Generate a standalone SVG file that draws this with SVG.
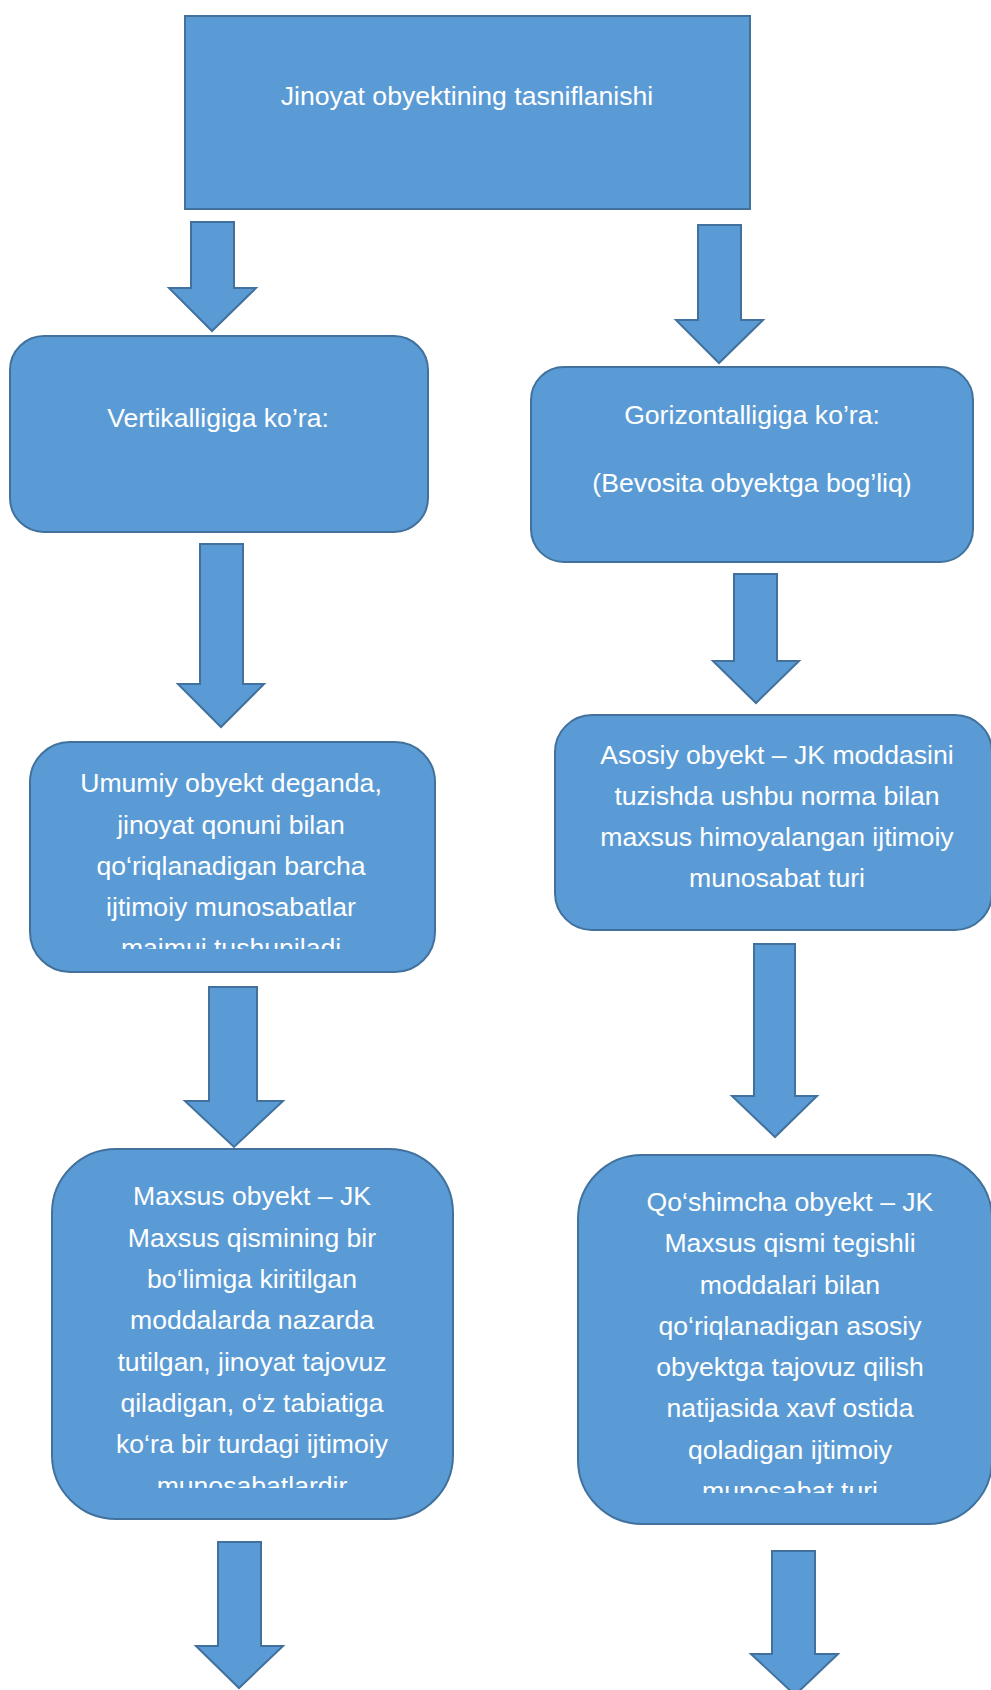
<svg xmlns="http://www.w3.org/2000/svg" width="991" height="1690" viewBox="0 0 991 1690">
<style>
.box{fill:#5B9BD5;stroke:#41719C;stroke-width:2}
.arr{fill:#5B9BD5;stroke:#41719C;stroke-width:2;stroke-linejoin:miter}
.t{font-family:"Liberation Sans",Arial,sans-serif;font-size:26.6px;fill:#FFFFFF;text-anchor:middle}
</style>
<defs>
<clipPath id="c1"><rect x="30" y="742" width="405" height="207"/></clipPath>
<clipPath id="c2"><rect x="52" y="1149" width="401" height="339"/></clipPath>
<clipPath id="c3"><rect x="578" y="1155" width="412" height="338"/></clipPath>
</defs>
<rect width="991" height="1690" fill="#FFFFFF"/>
<g id="connectors">
<polygon class="arr" points="191,222 234,222 234,288 256,288 212,331 169,288 191,288"/>
<polygon class="arr" points="698,225 741,225 741,320 763,320 719,363 676,320 698,320"/>
<polygon class="arr" points="200,544 243,544 243,684 264,684 221,727 178,684 200,684"/>
<polygon class="arr" points="734,574 777,574 777,661 799,661 756,703 713,661 734,661"/>
<polygon class="arr" points="209,987 257,987 257,1101 283,1101 234,1147 185,1101 209,1101"/>
<polygon class="arr" points="754,944 795,944 795,1096 817,1096 775,1137 732,1096 754,1096"/>
<polygon class="arr" points="218,1542 261,1542 261,1646 283,1646 239,1688 196,1646 218,1646"/>
<polygon class="arr" points="772,1551 815,1551 815,1654 838,1654 795,1695 751,1654 772,1654"/>
</g>
<g id="root">
<rect class="box" x="185" y="16" width="565" height="193"/>
<text class="t" x="467" y="105">Jinoyat obyektining tasniflanishi</text>
</g>
<g id="vertikal">
<rect class="box" x="10" y="336" width="418" height="196" rx="34" ry="34"/>
<text class="t" x="218" y="427">Vertikalligiga ko’ra:</text>
</g>
<g id="gorizontal">
<rect class="box" x="531" y="367" width="442" height="195" rx="33" ry="33"/>
<text class="t" x="752" y="424">Gorizontalligiga ko’ra:</text>
<text class="t" x="752" y="492">(Bevosita obyektga bog’liq)</text>
</g>
<g id="umumiy">
<rect class="box" x="30" y="742" width="405" height="230" rx="40" ry="40"/>
<g clip-path="url(#c1)">
<text class="t" x="231" y="792">Umumiy obyekt deganda,</text>
<text class="t" x="231" y="834">jinoyat qonuni bilan</text>
<text class="t" x="231" y="875">qo‘riqlanadigan barcha</text>
<text class="t" x="231" y="916">ijtimoiy munosabatlar</text>
<text class="t" x="231" y="957">majmui tushuniladi</text>
</g>
</g>
<g id="asosiy">
<rect class="box" x="555" y="715" width="437" height="215" rx="37" ry="37"/>
<text class="t" x="777" y="764">Asosiy obyekt – JK moddasini</text>
<text class="t" x="777" y="805">tuzishda ushbu norma bilan</text>
<text class="t" x="777" y="846">maxsus himoyalangan ijtimoiy</text>
<text class="t" x="777" y="887">munosabat turi</text>
</g>
<g id="maxsus">
<rect class="box" x="52" y="1149" width="401" height="370" rx="64" ry="64"/>
<g clip-path="url(#c2)">
<text class="t" x="252" y="1205">Maxsus obyekt – JK</text>
<text class="t" x="252" y="1247">Maxsus qismining bir</text>
<text class="t" x="252" y="1288">bo‘limiga kiritilgan</text>
<text class="t" x="252" y="1329">moddalarda nazarda</text>
<text class="t" x="252" y="1371">tutilgan, jinoyat tajovuz</text>
<text class="t" x="252" y="1412">qiladigan, o‘z tabiatiga</text>
<text class="t" x="252" y="1453">ko‘ra bir turdagi ijtimoiy</text>
<text class="t" x="252" y="1495">munosabatlardir</text>
</g>
</g>
<g id="qoshimcha">
<rect class="box" x="578" y="1155" width="414" height="369" rx="64" ry="64"/>
<g clip-path="url(#c3)">
<text class="t" x="790" y="1211">Qo‘shimcha obyekt – JK</text>
<text class="t" x="790" y="1252">Maxsus qismi tegishli</text>
<text class="t" x="790" y="1294">moddalari bilan</text>
<text class="t" x="790" y="1335">qo‘riqlanadigan asosiy</text>
<text class="t" x="790" y="1376">obyektga tajovuz qilish</text>
<text class="t" x="790" y="1417">natijasida xavf ostida</text>
<text class="t" x="790" y="1459">qoladigan ijtimoiy</text>
<text class="t" x="790" y="1500">munosabat turi</text>
</g>
</g>
</svg>
